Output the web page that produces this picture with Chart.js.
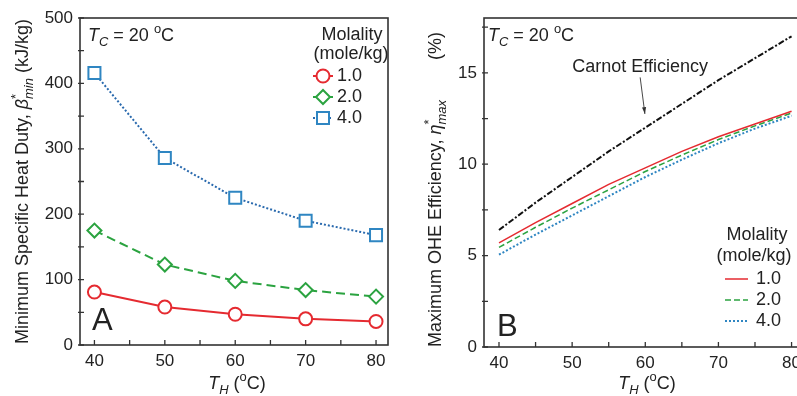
<!DOCTYPE html>
<html>
<head>
<meta charset="utf-8">
<script src="https://cdn.jsdelivr.net/npm/chart.js@4.4.1/dist/chart.umd.min.js"></script>
<style>
  html, body { margin: 0; padding: 0; background: #fff; overflow: hidden; }
  #wrap { position: relative; width: 797px; height: 396px; overflow: hidden; }
  #chartA { position: absolute; left: 0; top: 0; }
  #chartB { position: absolute; left: 400px; top: 0; }
</style>
</head>
<body>
<div id="wrap">
  <canvas id="chartA" width="400" height="396"></canvas>
  <canvas id="chartB" width="430" height="396"></canvas>
</div>
<script>
// panel A: minimum specific heat duty (kJ/kg)
const tempsA = [40, 50, 60, 70, 80];
const molalities = ["1.0", "2.0", "4.0"];
const dutyM1 = [81, 58, 47, 40, 36];
const dutyM2 = [175, 123, 98, 84, 74];
const dutyM4 = [416, 286, 225, 190, 168];

// panel B: maximum OHE efficiency (%)
const tempsB = [40, 45, 50, 55, 60, 65, 70, 75, 80];
const carnot = [6.4, 7.9, 9.3, 10.7, 12.0, 13.3, 14.6, 15.8, 17.0];
const effM1 = [5.7, 6.8, 7.85, 8.9, 9.8, 10.7, 11.5, 12.2, 12.9];
const effM2 = [5.45, 6.55, 7.6, 8.6, 9.6, 10.5, 11.35, 12.1, 12.8];
const effM4 = [5.05, 6.15, 7.2, 8.25, 9.3, 10.25, 11.15, 11.95, 12.65];

const xTicks = [40, 45, 50, 55, 60, 65, 70, 75, 80];
const yTicksA = [0, 50, 100, 150, 200, 250, 300, 350, 400, 450, 500];
const yTicksB = [0, 2.5, 5, 7.5, 10, 12.5, 15, 17.5];

const FONT = "'Liberation Sans', Arial, Helvetica, sans-serif";
const INK = '#222';
const RED = '#e52a30', GREEN = '#2ba340', BLUE = '#2f86c2', BLUE_LINE = '#2a6aae';
const TXT = 18;

Chart.defaults.font.family = FONT;
Chart.defaults.color = INK;

const pts = (xs, ys) => xs.map((x, i) => ({ x, y: ys[i] }));

// text with italic / sub / superscript pieces
function styleOf(kind, size) {
  const small = ['sub', 'isub', 'sup', 'supz'].includes(kind);
  const ital = kind === 'i' || kind === 'isub';
  const s = small ? size * 0.72 : size;
  let dy = 0;
  if (kind === 'sub' || kind === 'isub') dy = size * 0.28;
  if (kind === 'sup' || kind === 'supz') dy = -size * 0.42;
  return { font: (ital ? 'italic ' : '') + s + 'px ' + FONT, dy, advance: kind !== 'supz' };
}
function drawRich(ctx, parts, x, y, size, align) {
  ctx.save();
  ctx.textBaseline = 'alphabetic';
  ctx.textAlign = 'left';
  ctx.fillStyle = INK;
  let total = 0;
  const ws = parts.map(([t, k]) => {
    const st = styleOf(k, size);
    ctx.font = st.font;
    const w = ctx.measureText(t).width;
    if (st.advance) total += w;
    return w;
  });
  let cx = align === 'center' ? x - total / 2 : align === 'right' ? x - total : x;
  parts.forEach(([t, k], i) => {
    const st = styleOf(k, size);
    ctx.font = st.font;
    ctx.fillText(t, cx, y + st.dy);
    if (st.advance) cx += ws[i];
  });
  ctx.restore();
}
function plain(ctx, text, x, y, size, align) {
  ctx.save();
  ctx.font = size + 'px ' + FONT;
  ctx.fillStyle = INK;
  ctx.textAlign = align;
  ctx.textBaseline = 'middle';
  ctx.fillText(text, x, y);
  ctx.restore();
}

function scalesFor(ymax, yTicks, yLabelEvery, yWidth, xHeight) {
  return {
    x: {
      type: 'linear', min: 37.95, max: 81.7,
      afterBuildTicks: s => { s.ticks = xTicks.map(v => ({ value: v })); },
      afterFit: s => { s.height = xHeight; },
      ticks: { autoSkip: false, maxRotation: 0, padding: 6, color: INK,
               font: { size: 17 }, callback: v => (v % 10 === 0 ? v : '') },
      grid: { display: false, drawTicks: false },
      border: { display: false }
    },
    y: {
      min: 0, max: ymax,
      afterBuildTicks: s => { s.ticks = yTicks.map(v => ({ value: v })); },
      afterFit: s => { s.width = yWidth; },
      ticks: { autoSkip: false, padding: 7, color: INK,
               font: { size: 17 }, callback: v => (v % yLabelEvery === 0 ? v : '') },
      grid: { display: false, drawTicks: false },
      border: { display: false }
    }
  };
}

// frame, inward ticks, titles and in-plot notes
function framePlugin(draw) {
  return {
    id: 'frame',
    afterDraw(chart) {
      const ctx = chart.ctx, a = chart.chartArea;
      ctx.save();
      ctx.strokeStyle = '#333';
      ctx.lineWidth = 1.6;
      ctx.strokeRect(a.left, a.top, a.right - a.left, a.bottom - a.top);
      ctx.lineWidth = 1.3;
      ctx.beginPath();
      chart.scales.x.ticks.forEach(t => {
        const px = chart.scales.x.getPixelForValue(t.value);
        ctx.moveTo(px, a.bottom); ctx.lineTo(px, a.bottom - 5);
      });
      chart.scales.y.ticks.forEach(t => {
        const py = chart.scales.y.getPixelForValue(t.value);
        ctx.moveTo(a.left - 2, py); ctx.lineTo(a.left + 4, py);
      });
      ctx.stroke();
      ctx.restore();
      // x title
      drawRich(ctx, [['T', 'i'], ['H', 'isub'], [' (', 'n'], ['o', 'sup'], ['C)', 'n']],
        (a.left + a.right) / 2 + 3, 389, TXT, 'center');
      draw(ctx, chart);
    }
  };
}

function legendRow(ctx, ds, cx, y, x0, x1, label, lx) {
  ctx.save();
  ctx.strokeStyle = ds.borderColor;
  ctx.lineWidth = ds.borderWidth;
  ctx.setLineDash(ds.borderDash || []);
  ctx.beginPath(); ctx.moveTo(x0, y); ctx.lineTo(x1, y); ctx.stroke();
  ctx.setLineDash([]);
  if (ds.pointStyle) {
    ctx.fillStyle = '#fff';
    ctx.strokeStyle = ds.pointBorderColor;
    ctx.lineWidth = ds.pointBorderWidth;
    Chart.helpers.drawPoint(ctx, { pointStyle: ds.pointStyle, radius: ds.pointRadius, borderWidth: ds.pointBorderWidth, rotation: 0 }, cx, y);
  }
  ctx.restore();
  plain(ctx, label, lx, y, TXT, 'left');
}

new Chart(document.getElementById('chartA'), {
  type: 'line',
  data: {
    datasets: [
      { label: molalities[0], data: pts(tempsA, dutyM1), borderColor: RED, borderWidth: 2,
        pointStyle: 'circle', pointRadius: 6.5, pointBorderColor: RED, pointBackgroundColor: '#fff', pointBorderWidth: 2 },
      { label: molalities[1], data: pts(tempsA, dutyM2), borderColor: GREEN, borderWidth: 2, borderDash: [9, 5],
        pointStyle: 'rectRot', pointRadius: 7, pointBorderColor: GREEN, pointBackgroundColor: '#fff', pointBorderWidth: 2 },
      { label: molalities[2], data: pts(tempsA, dutyM4), borderColor: BLUE_LINE, borderWidth: 2, borderDash: [2, 2],
        pointStyle: 'rect', pointRadius: 8.5, pointBorderColor: BLUE, pointBackgroundColor: '#fff', pointBorderWidth: 2 }
    ]
  },
  options: {
    responsive: false, animation: false,
    layout: { padding: { top: 18, right: 12, left: 0, bottom: 0 } },
    plugins: { legend: { display: false }, tooltip: { enabled: false } },
    scales: scalesFor(500, yTicksA, 100, 80, 51)
  },
  plugins: [framePlugin((ctx, chart) => {
    const a = chart.chartArea;
    ctx.save();
    ctx.translate(28, (a.top + a.bottom) / 2);
    ctx.rotate(-Math.PI / 2);
    drawRich(ctx, [['Minimum Specific Heat Duty, ', 'n'], ['β', 'i'], ['*', 'supz'], ['min', 'isub'], [' (kJ/kg)', 'n']], 0, 0, TXT, 'center');
    ctx.restore();
    drawRich(ctx, [['T', 'i'], ['C', 'isub'], [' = 20 ', 'n'], ['o', 'sup'], ['C', 'n']], 88, 41, TXT, 'left');
    plain(ctx, 'Molality', 352, 35, TXT, 'center');
    plain(ctx, '(mole/kg)', 351, 54, TXT, 'center');
    const ds = chart.data.datasets;
    [76, 97, 118].forEach((y, i) => legendRow(ctx, ds[i], 323, y, 313, 333, ds[i].label, 337));
    ctx.save();
    ctx.font = '31px ' + FONT; ctx.fillStyle = INK;
    ctx.fillText('A', 92, 330);
    ctx.restore();
  })]
});

new Chart(document.getElementById('chartB'), {
  type: 'line',
  data: {
    datasets: [
      { label: molalities[0], data: pts(tempsB, effM1), borderColor: RED, borderWidth: 1.5, pointRadius: 0 },
      { label: molalities[1], data: pts(tempsB, effM2), borderColor: GREEN, borderWidth: 1.5, borderDash: [6, 3], pointRadius: 0 },
      { label: molalities[2], data: pts(tempsB, effM4), borderColor: BLUE, borderWidth: 2, borderDash: [2, 2], pointRadius: 0 },
      { label: 'Carnot Efficiency', data: pts(tempsB, carnot), borderColor: '#111', borderWidth: 2, borderDash: [6, 2, 2, 2], pointRadius: 0 }
    ]
  },
  options: {
    responsive: false, animation: false,
    layout: { padding: { top: 18, right: 26, left: 0, bottom: 0 } },
    plugins: { legend: { display: false }, tooltip: { enabled: false } },
    scales: scalesFor(18, yTicksB, 5, 84, 49)
  },
  plugins: [framePlugin((ctx, chart) => {
    const a = chart.chartArea, xs = chart.scales.x, ys = chart.scales.y;
    ctx.save();
    ctx.translate(41, (a.top + a.bottom) / 2 + 7);
    ctx.rotate(-Math.PI / 2);
    drawRich(ctx, [['Maximum OHE Efficiency, ', 'n'], ['η', 'i'], ['*', 'supz'], ['max', 'isub'], ['        (%)', 'n']], 0, 0, TXT, 'center');
    ctx.restore();
    drawRich(ctx, [['T', 'i'], ['C', 'isub'], [' = 20 ', 'n'], ['o', 'sup'], ['C', 'n']], 88, 41, TXT, 'left');
    // Carnot label and arrow
    plain(ctx, 'Carnot Efficiency', xs.getPixelForValue(59.3), ys.getPixelForValue(15.3), TXT, 'center');
    const x0 = xs.getPixelForValue(59.3), y0 = ys.getPixelForValue(14.75);
    const x1 = xs.getPixelForValue(59.95), y1 = ys.getPixelForValue(12.75);
    ctx.save();
    ctx.strokeStyle = '#333'; ctx.fillStyle = '#333'; ctx.lineWidth = 0.9;
    ctx.beginPath(); ctx.moveTo(x0, y0); ctx.lineTo(x1, y1); ctx.stroke();
    const ang = Math.atan2(y1 - y0, x1 - x0);
    ctx.beginPath();
    ctx.moveTo(x1, y1);
    ctx.lineTo(x1 - 7 * Math.cos(ang - 0.3), y1 - 7 * Math.sin(ang - 0.3));
    ctx.lineTo(x1 - 7 * Math.cos(ang + 0.3), y1 - 7 * Math.sin(ang + 0.3));
    ctx.closePath(); ctx.fill();
    ctx.restore();
    plain(ctx, 'Molality', 357, 235, TXT, 'center');
    plain(ctx, '(mole/kg)', 354, 256, TXT, 'center');
    const ds = chart.data.datasets;
    [279, 300, 321].forEach((y, i) => legendRow(ctx, ds[i], 0, y, 325, 348, ds[i].label, 356));
    ctx.save();
    ctx.font = '31px ' + FONT; ctx.fillStyle = INK;
    ctx.fillText('B', 97, 336);
    ctx.restore();
  })]
});
</script>
</body>
</html>
